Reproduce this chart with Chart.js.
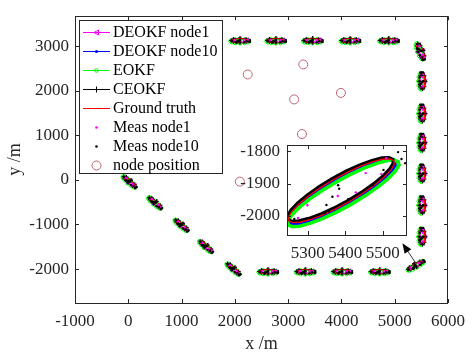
<!DOCTYPE html>
<html>
<head>
<meta charset="utf-8">
<script src="https://cdn.jsdelivr.net/npm/chart.js@4.4.0/dist/chart.umd.min.js"></script>
<style>
  html, body { margin: 0; padding: 0; background: #fff; }
  #wrap { position: relative; width: 473px; height: 356px; }
  #mainChart { position: absolute; left: 0; top: 0; }
  #zoomChart { position: absolute; left: 230px; top: 128px; }
</style>
</head>
<body>
<div id="wrap">
  <canvas id="mainChart" width="473" height="356"></canvas>
  <canvas id="zoomChart" width="190" height="135"></canvas>
</div>
<script>
// centres of the local manoeuvres along the track (m)
const centerX = [20, 500, 995, 1455, 1970, 2620, 3320, 4010, 4715, 5390, 5512, 5512, 5512, 5512, 5512, 5512, 5482, 4886, 4162, 3457, 2768, 2094];
const centerY = [-40, -512, -1013, -1492, -1995, -2060, -2060, -2060, -2060, -1922, -1275, -571, 142, 832, 1486, 2211, 2887, 3120, 3120, 3120, 3120, 3120];
const centerKind = ['D', 'D', 'D', 'D', 'D', 'H', 'H', 'H', 'H', 'C', 'V', 'V', 'V', 'V', 'V', 'V', 'T', 'H', 'H', 'H', 'H', 'H'];

// semi axes of each manoeuvre kind (m)
const kindNames = ['D', 'H', 'V', 'C', 'T'];
const majorX = [110, 165, 0, 140, 55];
const majorY = [-115, 0, 175, 93, -170];
const minorX = [27, 0, 55, -21, 48];
const minorY = [26, 46, 0, 34, 16];

// outline of one manoeuvre in (major, minor) units
const ringU = [0, -0.259, -0.5, -0.707, -0.866, -0.966, -1, -0.966, -0.866, -0.707, -0.5, -0.259, 0, 0.259, 0.5, 0.707, 0.866, 0.966, 1, 0.966, 0.866, 0.707, 0.5, 0.259, 0];
const ringV = [1, 0.966, 0.866, 0.707, 0.5, 0.259, 0, -0.259, -0.5, -0.707, -0.866, -0.966, -1, -0.966, -0.866, -0.707, -0.5, -0.259, 0, 0.259, 0.5, 0.707, 0.866, 0.966, 1];

// estimators: offset across track and stretch along track
const seriesNames = ['DEOKF node1', 'DEOKF node10', 'EOKF', 'CEOKF', 'Ground truth'];
const seriesShiftV = [0.08, -0.1, -0.24, 0.13, 0];
const seriesScaleU = [1.0, 1.01, 1.05, 1.0, 1.0];

// measurements in (major, minor) units around each centre
const meas1U = [-0.1, 0.18, 0.92, -0.6, 0.5, -0.85, 0.7];
const meas1V = [-0.21, -0.64, 0.45, 0.32, 0.24, -0.16, -0.4];
const meas10U = [1.14, 1.12, 1.13, 0.77, 0.48, 0.01, -0.01, -0.18, -0.34, -0.44, -0.37, -0.91, 0.01];
const meas10V = [0.4, -0.17, -0.58, -0.21, -0.82, 0.48, 0.21, -0.06, -0.37, -0.83, -0.87, -0.09, -0.79];

// sensor node positions (m)
const nodeX = [2241, 3284, 3112, 3990, 3260, 2094];
const nodeY = [2364, 2588, 1804, 1950, 1028, -39];

// tick labels
const xTicks = [-1000, 0, 1000, 2000, 3000, 4000, 5000, 6000];
const yTicks = [-2000, -1000, 0, 1000, 2000, 3000];
const zoomXTicks = [5300, 5400, 5500];
const zoomYTicks = [-2000, -1900, -1800];

// arrow from the corner manoeuvre to the zoom box (m)
const arrowFrom = [5390, -1856];
const arrowTo = [5144, -1420];

const fontFam = "'Liberation Serif', 'Times New Roman', serif";
const axisColor = '#262626';
const nodeColor = 'rgb(190,100,112)';

function toXY(i, u, v) {
  const k = kindNames.indexOf(centerKind[i]);
  return {
    x: centerX[i] + u * majorX[k] + v * minorX[k],
    y: centerY[i] + u * majorY[k] + v * minorY[k]
  };
}

function ringPoints(s) {
  const pts = [];
  centerX.forEach((cx, i) => {
    ringU.forEach((u, j) => {
      pts.push(toXY(i, u * seriesScaleU[s], ringV[j] + seriesShiftV[s]));
    });
    pts.push({ x: cx, y: null });
  });
  return pts;
}

function measPoints(us, vs) {
  const pts = [];
  centerX.forEach((cx, i) => {
    us.forEach((u, j) => pts.push(toXY(i, u, vs[j])));
  });
  return pts;
}

const nodePoints = nodeX.map((x, i) => ({ x: x, y: nodeY[i] }));
const ringLen = ringU.length + 1;

function everyN(n, r) {
  return c => ((c.dataIndex % ringLen) % n === 0 ? r : 0);
}

function fixedTicks(list) {
  return s => { s.ticks = list.map(v => ({ value: v })); };
}

// ticks inside on all four sides + box
const boxTicks = {
  id: 'boxTicks',
  afterDraw(chart) {
    const { ctx, chartArea: a, scales: { x, y } } = chart;
    const len = 4;
    ctx.save();
    ctx.strokeStyle = axisColor;
    ctx.lineWidth = 1;
    ctx.beginPath();
    x.ticks.forEach(t => {
      const px = Math.round(x.getPixelForValue(t.value)) + 0.5;
      ctx.moveTo(px, a.bottom); ctx.lineTo(px, a.bottom - len);
      ctx.moveTo(px, a.top); ctx.lineTo(px, a.top + len);
    });
    y.ticks.forEach(t => {
      const py = Math.round(y.getPixelForValue(t.value)) + 0.5;
      ctx.moveTo(a.left, py); ctx.lineTo(a.left + len, py);
      ctx.moveTo(a.right, py); ctx.lineTo(a.right - len, py);
    });
    ctx.stroke();
    ctx.strokeRect(Math.round(a.left) + 0.5, Math.round(a.top) + 0.5, Math.round(a.width) - 1, Math.round(a.height));
    ctx.restore();
  }
};

const whiteArea = {
  id: 'whiteArea',
  beforeDatasetsDraw(chart) {
    const { ctx, chartArea: a } = chart;
    ctx.save();
    ctx.fillStyle = '#fff';
    ctx.fillRect(a.left, a.top, a.width, a.height);
    ctx.restore();
  }
};

const arrowPlugin = {
  id: 'arrowPlugin',
  afterDraw(chart) {
    const { ctx, scales: { x, y } } = chart;
    const x0 = x.getPixelForValue(arrowFrom[0]), y0 = y.getPixelForValue(arrowFrom[1]);
    const x1 = x.getPixelForValue(arrowTo[0]), y1 = y.getPixelForValue(arrowTo[1]);
    const ang = Math.atan2(y1 - y0, x1 - x0);
    const hl = 10, hw = 4;
    ctx.save();
    ctx.strokeStyle = '#000';
    ctx.fillStyle = '#000';
    ctx.lineWidth = 0.8;
    ctx.beginPath();
    ctx.moveTo(x0, y0);
    ctx.lineTo(x1 - Math.cos(ang) * hl * 0.8, y1 - Math.sin(ang) * hl * 0.8);
    ctx.stroke();
    ctx.beginPath();
    ctx.moveTo(x1, y1);
    ctx.lineTo(x1 - Math.cos(ang) * hl - Math.sin(ang) * hw, y1 - Math.sin(ang) * hl + Math.cos(ang) * hw);
    ctx.lineTo(x1 - Math.cos(ang) * hl + Math.sin(ang) * hw, y1 - Math.sin(ang) * hl - Math.cos(ang) * hw);
    ctx.closePath();
    ctx.fill();
    ctx.restore();
  }
};

const legendLabels = ['DEOKF node1', 'DEOKF node10', 'EOKF', 'CEOKF', 'Ground truth', 'Meas node1', 'Meas node10', 'node position'];
const legendColors = ['#ff00ff', '#0000ff', '#00ff00', '#000000', '#ff0000', '#ff00ff', '#000000', nodeColor];

const legendBox = {
  id: 'legendBox',
  afterDraw(chart) {
    const { ctx, chartArea: a } = chart;
    const left = a.left + 4, top = a.top + 4, w = 143, h = 153;
    ctx.save();
    ctx.fillStyle = '#fff';
    ctx.fillRect(left, top, w, h);
    ctx.strokeStyle = axisColor;
    ctx.lineWidth = 1;
    ctx.strokeRect(Math.round(left) + 0.5, Math.round(top) + 0.5, w, h);
    ctx.font = '16px ' + fontFam;
    ctx.textBaseline = 'middle';
    legendLabels.forEach((lab, i) => {
      const yy = Math.round(top + 11.3 + i * 19) + 0.5;
      const x0 = left + 4, x1 = left + 31, xm = (x0 + x1) / 2;
      const c = legendColors[i];
      ctx.strokeStyle = c;
      ctx.fillStyle = c;
      ctx.lineWidth = 1;
      if (i <= 4) {
        ctx.beginPath(); ctx.moveTo(x0, yy); ctx.lineTo(x1, yy); ctx.stroke();
      }
      ctx.beginPath();
      if (i === 0) {
        ctx.moveTo(xm - 2.5, yy); ctx.lineTo(xm + 2, yy - 2.5); ctx.lineTo(xm + 2, yy + 2.5); ctx.closePath(); ctx.stroke();
      } else if (i === 1) {
        ctx.arc(xm, yy, 1.6, 0, Math.PI * 2); ctx.fill();
      } else if (i === 2) {
        ctx.arc(xm, yy, 1.8, 0, Math.PI * 2); ctx.stroke();
      } else if (i === 3) {
        ctx.moveTo(xm, yy - 3); ctx.lineTo(xm, yy + 3); ctx.stroke();
      } else if (i === 5 || i === 6) {
        ctx.arc(xm, yy, 1.3, 0, Math.PI * 2); ctx.fill();
      } else if (i === 7) {
        ctx.arc(xm, yy, 4.5, 0, Math.PI * 2); ctx.stroke();
      }
      ctx.fillStyle = '#000';
      ctx.fillText(lab, left + 34, yy);
    });
    ctx.restore();
  }
};

function tickFont(size) {
  return { family: fontFam, size: size };
}

function estimatorSets(widths, showMarks) {
  return [
    { label: 'Ground truth', data: ringPoints(4), showLine: true, borderColor: '#ff0000', borderWidth: widths[4], pointRadius: 0 },
    { label: 'CEOKF', data: ringPoints(3), showLine: true, borderColor: '#000', borderWidth: widths[3],
      pointStyle: 'cross', pointRadius: showMarks ? everyN(3, 2) : 0, pointBorderColor: '#000', pointBorderWidth: 1 },
    { label: 'EOKF', data: ringPoints(2), showLine: true, borderColor: '#00ff00', borderWidth: widths[2],
      pointStyle: 'circle', pointRadius: showMarks ? everyN(2, 1.8) : 0, pointBorderColor: '#00ff00', pointBackgroundColor: 'rgba(0,0,0,0)', pointBorderWidth: 1 },
    { label: 'DEOKF node10', data: ringPoints(1), showLine: true, borderColor: '#0000ff', borderWidth: widths[1],
      pointStyle: 'circle', pointRadius: showMarks ? everyN(4, 1.2) : 0, pointBorderColor: '#0000ff', pointBackgroundColor: '#0000ff', pointBorderWidth: 0 },
    { label: 'DEOKF node1', data: ringPoints(0), showLine: true, borderColor: '#ff00ff', borderWidth: widths[0],
      pointStyle: 'triangle', pointRotation: -90, pointRadius: showMarks ? everyN(4, 2) : 0, pointBorderColor: '#ff00ff', pointBackgroundColor: 'rgba(0,0,0,0)', pointBorderWidth: 1 }
  ];
}

const measSets = [
  { label: 'node position', data: nodePoints, showLine: false, pointStyle: 'circle', pointRadius: 4.5,
    pointBorderColor: nodeColor, pointBackgroundColor: 'rgba(0,0,0,0)', pointBorderWidth: 1 },
  { label: 'Meas node10', data: measPoints(meas10U, meas10V), showLine: false, pointRadius: 1.2,
    pointBorderWidth: 0, pointBackgroundColor: '#000' },
  { label: 'Meas node1', data: measPoints(meas1U, meas1V), showLine: false, pointRadius: 1.2,
    pointBorderWidth: 0, pointBackgroundColor: '#ff00ff' }
];

function axisOpts(min, max, list, pad, fit, horizontal) {
  return {
    type: 'linear', min: min, max: max,
    grid: { display: false, drawTicks: false }, border: { display: false },
    afterBuildTicks: fixedTicks(list),
    ticks: { autoSkip: false, maxRotation: 0, padding: pad,
             color: axisColor, font: tickFont(17), callback: v => String(v) },
    afterFit: horizontal ? (s => { s.height = fit; }) : (s => { s.width = fit; })
  };
}

const mainX = axisOpts(-1000, 6000, xTicks, 8, 53, true);
mainX.title = { display: true, text: 'x /m', color: axisColor, font: tickFont(18), padding: { top: 0, bottom: 1 } };
const mainY = axisOpts(-2760, 3670, yTicks, 6, 75, false);
mainY.title = { display: true, text: 'y /m', color: axisColor, font: tickFont(18), padding: { top: 4, bottom: 0 } };

new Chart(document.getElementById('mainChart'), {
  type: 'scatter',
  data: { datasets: measSets.concat(estimatorSets([1, 1, 1, 1, 1], true)) },
  options: {
    responsive: false,
    animation: false,
    events: [],
    layout: { padding: { top: 8, right: 18, left: 0, bottom: 0 } },
    plugins: { legend: { display: false }, tooltip: { enabled: false } },
    scales: { x: mainX, y: mainY }
  },
  plugins: [boxTicks, arrowPlugin, legendBox]
});

new Chart(document.getElementById('zoomChart'), {
  type: 'scatter',
  data: { datasets: measSets.slice(1).concat(estimatorSets([2.2, 3, 3.5, 3, 1.3], false)) },
  options: {
    responsive: false,
    animation: false,
    events: [],
    layout: { padding: { top: 8, right: 13, left: 0, bottom: 0 } },
    plugins: { legend: { display: false }, tooltip: { enabled: false } },
    elements: { point: { radius: 1.6 } },
    scales: {
      x: axisOpts(5245, 5565, zoomXTicks, 8, 28, true),
      y: axisOpts(-2059, -1781, zoomYTicks, 7, 57, false)
    }
  },
  plugins: [whiteArea, boxTicks]
});
</script>
</body>
</html>
